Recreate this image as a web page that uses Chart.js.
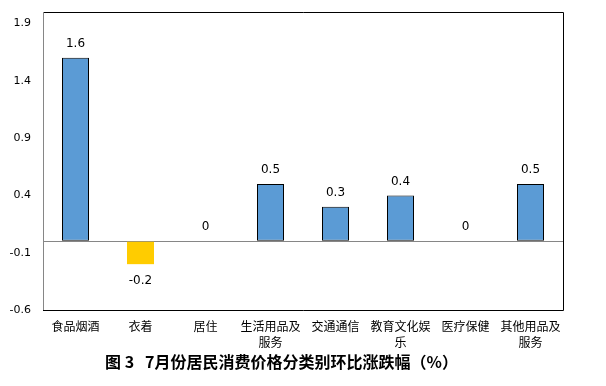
<!DOCTYPE html>
<html><head><meta charset="utf-8">
<script src="https://cdn.jsdelivr.net/npm/chart.js@4/dist/chart.umd.min.js"></script>
<style>html,body{margin:0;padding:0;background:#fff;}canvas{display:block;}</style>
</head><body>
<canvas id="c" width="606" height="386"></canvas>
<script>
const categories = [['食品烟酒'], ['衣着'], ['居住'], ['生活用品及','服务'], ['交通通信'], ['教育文化娱','乐'], ['医疗保健'], ['其他用品及','服务']];
const values = [1.6, -0.2, 0, 0.5, 0.3, 0.4, 0, 0.5];
const yTicks = [-0.6, -0.1, 0.4, 0.9, 1.4, 1.9];
const titleText = '图 3   7月份居民消费价格分类别环比涨跌幅（%）';

const barColors = values.map(v => v < 0 ? '#FFCC00' : '#5B9BD5');
const borderWidths = values.map(v => v > 0 ? 1 : 0);

const labelPlugin = {
  id: 'labels',
  afterDatasetsDraw(chart) {
    const ctx = chart.ctx;
    const meta = chart.getDatasetMeta(0);
    ctx.save();
    ctx.font = '12px "DejaVu Sans"';
    ctx.fillStyle = '#000';
    ctx.textAlign = 'center';
    ctx.textBaseline = 'middle';
    meta.data.forEach((bar, i) => {
      const v = values[i];
      const y = v < 0 ? bar.y + 17 : bar.y - 14;
      ctx.fillText(String(v), bar.x, y);
    });
    ctx.restore();
  }
};
const borderPlugin = {
  id: 'frame',
  afterDraw(chart) {
    const a = chart.chartArea, ctx = chart.ctx;
    ctx.save();
    ctx.lineWidth = 1;
    ctx.strokeStyle = '#000';
    ctx.beginPath();
    ctx.moveTo(a.left, a.top + 0.5); ctx.lineTo(a.right + 0.5, a.top + 0.5);
    ctx.lineTo(a.right + 0.5, a.bottom + 0.5); ctx.lineTo(a.left, a.bottom + 0.5);
    ctx.stroke();
    ctx.strokeStyle = '#868686';
    ctx.beginPath();
    ctx.moveTo(a.left + 0.5, a.top); ctx.lineTo(a.left + 0.5, a.bottom);
    ctx.stroke();
    ctx.restore();
  }
};

new Chart(document.getElementById('c'), {
  type: 'bar',
  data: {
    labels: categories,
    datasets: [{
      data: values,
      backgroundColor: barColors,
      borderColor: '#000',
      borderWidth: borderWidths,
      borderSkipped: false,
      barPercentage: 27 / 65,
      categoryPercentage: 1.0
    }]
  },
  options: {
    responsive: false,
    animation: false,
    layout: { padding: { top: 12, right: 43, left: 0, bottom: 0 } },
    plugins: {
      legend: { display: false },
      tooltip: { enabled: false },
      title: {
        display: true, text: titleText, position: 'bottom',
        color: '#000',
        font: { family: '"Noto Sans CJK SC"', size: 16, weight: 'bold', lineHeight: 1.2 },
        padding: { top: 0, bottom: 14.5 }
      }
    },
    scales: {
      x: {
        grid: { display: false, drawTicks: false },
        border: { display: false },
        ticks: { color: '#000', font: { family: '"Noto Sans CJK SC"', size: 12, lineHeight: 1.33 }, padding: 8, maxRotation: 0, autoSkip: false },
        afterFit(s) { s.height = 386 - 33.7 - 310; s.paddingLeft = 0; s.paddingRight = 0; }
      },
      y: {
        min: -0.6, max: 2.0,
        afterBuildTicks(s) { s.ticks = yTicks.concat([0]).sort((a,b)=>a-b).map(v => ({ value: v })); },
        grid: {
          drawTicks: false,
          color: c => (c.tick && c.tick.value === 0) ? '#868686' : 'rgba(0,0,0,0)',
          lineWidth: 1
        },
        border: { display: false },
        ticks: {
          color: '#000', padding: 12,
          font: { family: '"DejaVu Sans"', size: 11 },
          callback: v => (v === 0 ? '' : String(Math.round(v * 10) / 10))
        },
        afterFit(s) { s.width = 43; s.paddingTop = 0; s.paddingBottom = 0; }
      }
    }
  },
  plugins: [labelPlugin, borderPlugin]
});
</script>
</body></html>
